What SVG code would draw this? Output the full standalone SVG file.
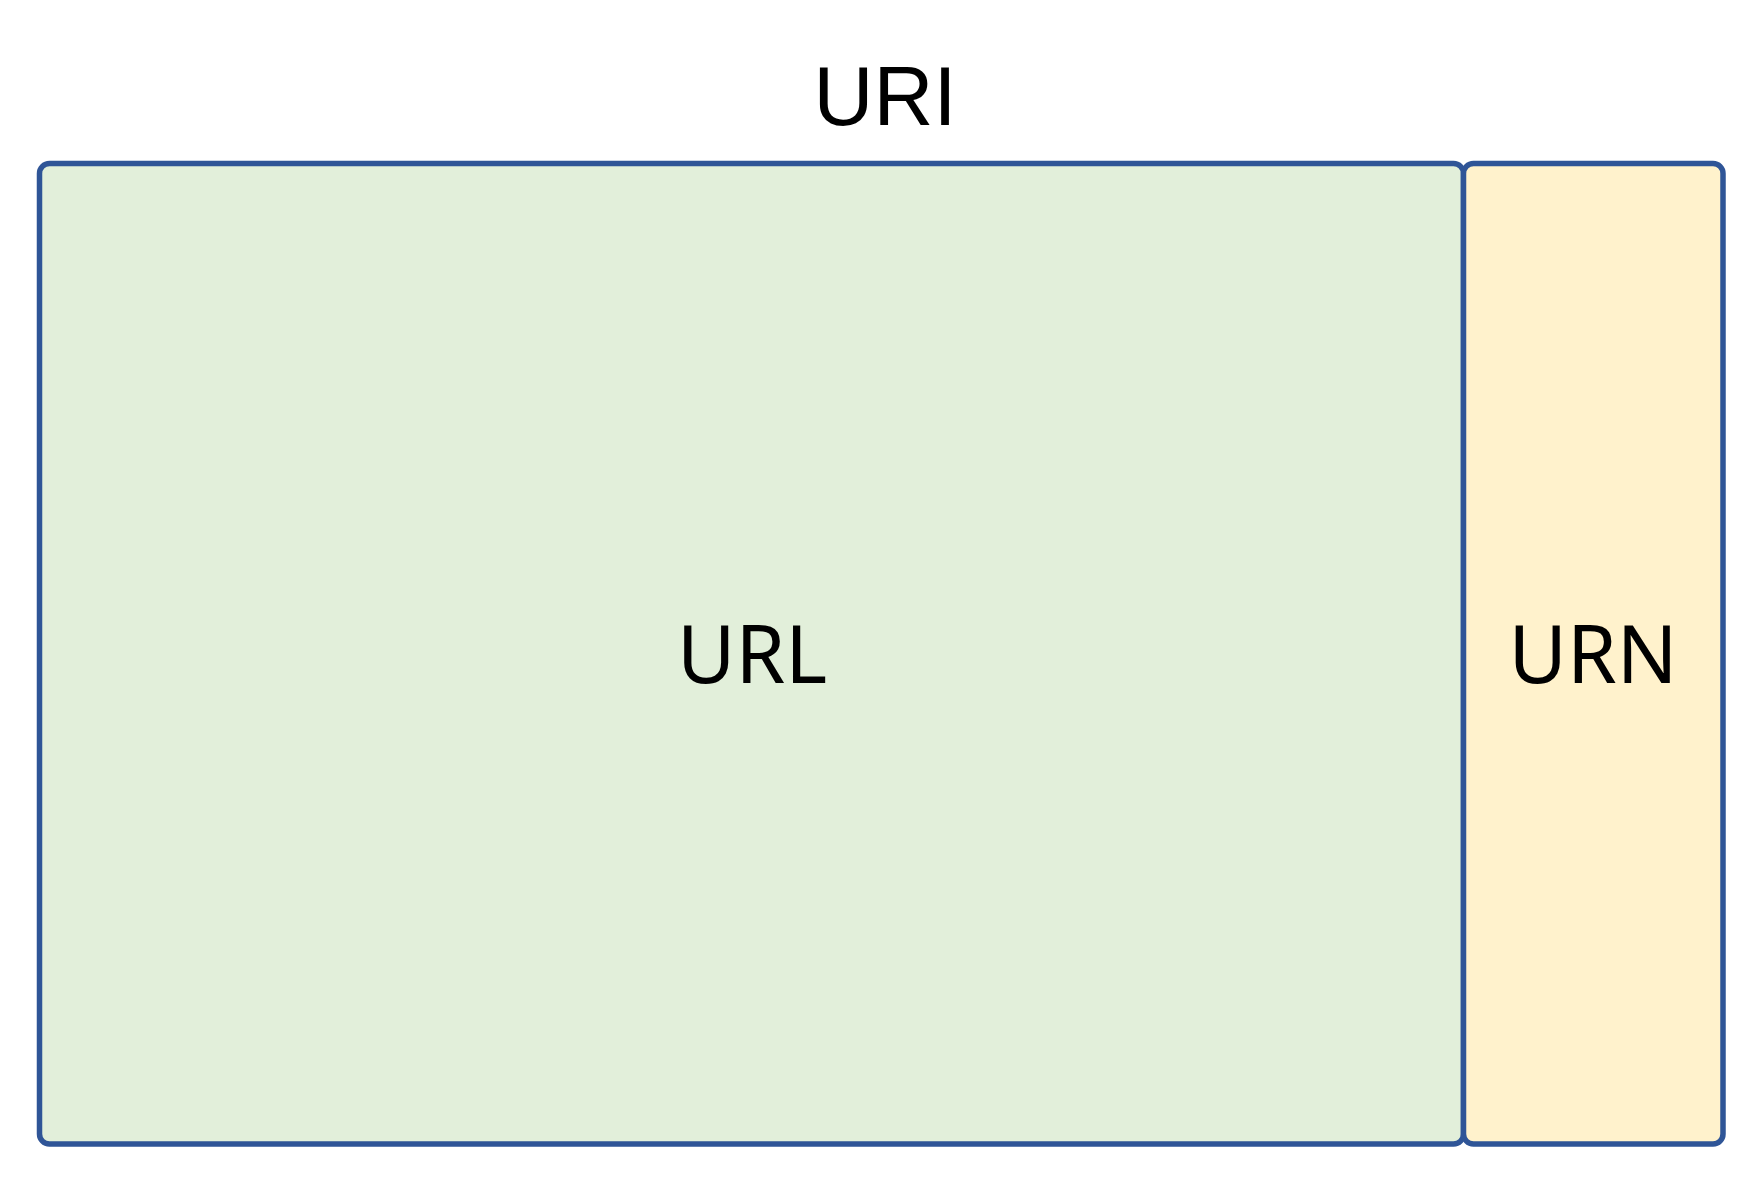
<svg xmlns="http://www.w3.org/2000/svg" width="1757" height="1184" viewBox="0 0 1757 1184">
<style>
.box{stroke:#2f5597;stroke-width:5.5}
.t{font-family:"Noto Sans","Open Sans",sans-serif;font-size:80px;fill:#000;text-anchor:middle}
.title{font-family:"Liberation Sans",Arial,sans-serif;font-size:83px;fill:#000;text-anchor:middle}
</style>
<rect width="1757" height="1184" fill="#fff"/>
<g id="uri">
<text class="title" x="885" y="125">URI</text>
</g>
<g id="url">
<rect class="box" x="39.5" y="163.5" width="1424" height="980.5" rx="10" fill="#e2efda"/>
<text class="t" x="752" y="683">URL</text>
</g>
<g id="urn">
<rect class="box" x="1463.5" y="163.5" width="259.5" height="980.5" rx="10" fill="#fff2cc"/>
<text class="t" x="1593" y="683">URN</text>
</g>
<g id="connectors"></g>
</svg>
